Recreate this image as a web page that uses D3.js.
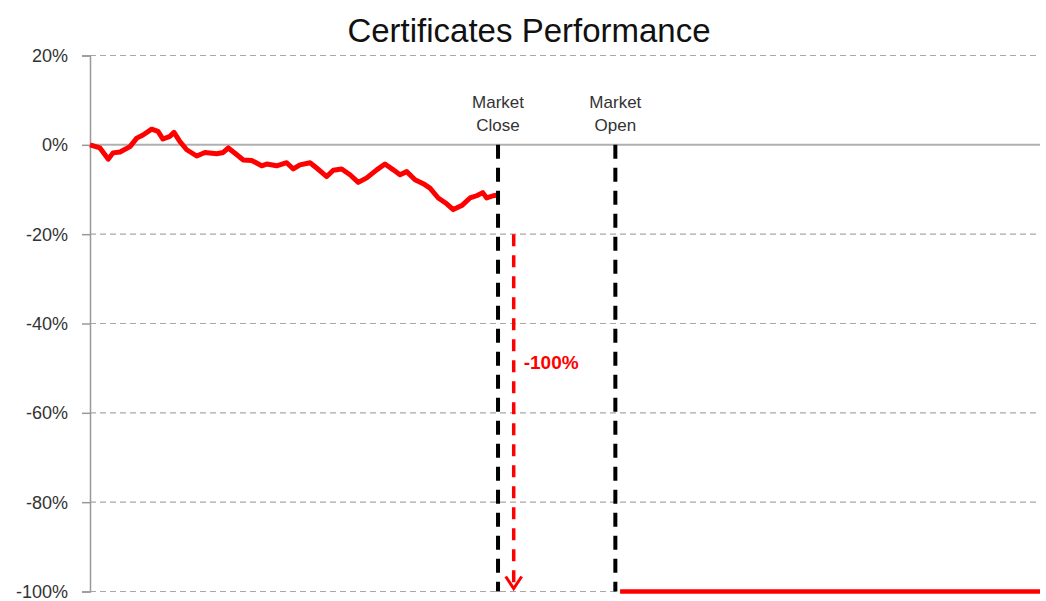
<!DOCTYPE html>
<html>
<head>
<meta charset="utf-8">
<script src="https://cdn.jsdelivr.net/npm/d3@7"></script>
<style>
  body { margin: 0; background: #fff; }
  text { font-family: "Liberation Sans", Arial, sans-serif; }
</style>
</head>
<body>
<div id="chart"></div>
<script>
// trading steps (x) and performance in % (y) before the close
let steps = [0, 1.05, 1.93, 2.42, 3.16, 4.21, 4.92, 5.58, 6.49, 7.16, 7.68, 8.42, 8.84, 9.47,
    10.18, 11.23, 12.1, 13.34, 14.03, 14.56, 15.26, 16.14, 17.02, 18.07, 18.6, 19.65, 20.7,
    21.4, 22.1, 23.16, 23.86, 24.92, 25.61, 26.49, 27.37, 28.24, 29.13, 30.18, 31.05, 31.93,
    32.63, 33.34, 34.21, 35.08, 35.79, 36.66, 37.55, 38.24, 39.13, 40.0, 40.7, 41.34, 41.76,
    42.45, 42.98]
let perf = [0, -0.7, -3.2, -1.8, -1.6, -0.4, 1.5, 2.2, 3.5, 3.0, 1.3, 1.9, 2.8, 0.7,
    -1.1, -2.5, -1.7, -2.0, -1.7, -0.7, -1.9, -3.4, -3.5, -4.7, -4.3, -4.7, -4.0,
    -5.4, -4.5, -4.0, -5.2, -7.1, -5.7, -5.4, -6.7, -8.4, -7.4, -5.6, -4.3, -5.6,
    -6.7, -6.0, -7.8, -8.7, -9.7, -11.9, -13.2, -14.5, -13.6, -11.9, -11.4, -10.7, -11.9,
    -11.4, -11.2]

// after the market opens the certificate is worth nothing
let afterSteps = [55.8, 100]
let afterPerf = [-100, -100]

let yTicks = [20, 0, -20, -40, -60, -80, -100]

let markers = [
    { step: 42.95, label: ["Market", "Close"] },
    { step: 55.3, label: ["Market", "Open"] }
]
let dropStep = 44.6
let dropFrom = -20
let dropTo = -100
let dropLabel = "-100%"
let title = "Certificates Performance"

let width = 1046, height = 601
let margin = { left: 90, right: 6, top: 56, bottom: 10 }

let svg = d3.select('#chart').append('svg')
    .attr('width', width)
    .attr('height', height)

let x = d3.scaleLinear()
    .domain([0, 100])
    .range([margin.left, width - margin.right])

let y = d3.scaleLinear()
    .domain([-100, 20])
    .range([591.5, 55.5])

// gridlines
svg.selectAll('.grid')
    .data(yTicks)
    .enter()
    .append('line')
    .attr('x1', x(0))
    .attr('x2', x(100))
    .attr('y1', d => y(d))
    .attr('y2', d => y(d))
    .attr('stroke', d => d === 0 ? '#b0b0b0' : '#a8a8a8')
    .attr('stroke-width', d => d === 0 ? 2 : 1.2)
    .attr('stroke-dasharray', d => d === 0 ? null : '6,4')

// y axis
let yAxis = d3.axisLeft(y)
    .tickValues(yTicks)
    .tickFormat(d => d + '%')
    .tickSize(8)
    .tickPadding(14)

let axisG = svg.append('g')
    .attr('transform', 'translate(' + x(0) + ',0)')
    .call(yAxis)
axisG.select('.domain').attr('stroke', '#999').attr('stroke-width', 1.5)
axisG.selectAll('.tick line').attr('stroke', '#999').attr('stroke-width', 1.5)
axisG.selectAll('.tick text')
    .attr('fill', '#333')
    .attr('dy', '0.34em')
    .style('font-size', '18px')
    .style('font-family', '"Liberation Sans", Arial, sans-serif')

// title
svg.append('text')
    .attr('x', 529)
    .attr('y', 42)
    .attr('text-anchor', 'middle')
    .attr('fill', '#111')
    .style('font-size', '33px')
    .text(title)

// performance line
let line = d3.line()
    .x(d => x(d[0]))
    .y(d => y(d[1]))

svg.append('path')
    .datum(steps.map((s, i) => [s, perf[i]]))
    .attr('d', line)
    .attr('fill', 'none')
    .attr('stroke', '#ff0000')
    .attr('stroke-width', 5)
    .attr('stroke-linejoin', 'round')

svg.append('path')
    .datum(afterSteps.map((s, i) => [s, afterPerf[i]]))
    .attr('d', line)
    .attr('fill', 'none')
    .attr('stroke', '#ff0000')
    .attr('stroke-width', 4.5)

// market close / open markers
markers.forEach(function (m) {
    svg.append('line')
        .attr('x1', x(m.step))
        .attr('x2', x(m.step))
        .attr('y1', y(0))
        .attr('y2', y(-100))
        .attr('stroke', '#000')
        .attr('stroke-width', 4)
        .attr('stroke-dasharray', '14,9')

    let t = svg.append('text')
        .attr('x', x(m.step))
        .attr('y', 108)
        .attr('text-anchor', 'middle')
        .attr('fill', '#333')
        .style('font-size', '17px')
    t.selectAll('tspan')
        .data(m.label)
        .enter()
        .append('tspan')
        .attr('x', x(m.step))
        .attr('dy', (d, i) => i === 0 ? 0 : 23)
        .text(d => d)
})

// drop arrow
svg.append('line')
    .attr('x1', x(dropStep))
    .attr('x2', x(dropStep))
    .attr('y1', y(dropFrom))
    .attr('y2', y(dropTo) - 2)
    .attr('stroke', '#ff0000')
    .attr('stroke-width', 3.5)
    .attr('stroke-dasharray', '12,9')

svg.append('path')
    .attr('d', 'M' + (x(dropStep) - 8) + ',' + (y(dropTo) - 15) +
        'L' + x(dropStep) + ',' + (y(dropTo) - 3) +
        'L' + (x(dropStep) + 8) + ',' + (y(dropTo) - 15))
    .attr('fill', 'none')
    .attr('stroke', '#ff0000')
    .attr('stroke-width', 3)

svg.append('text')
    .attr('x', x(dropStep) + 10)
    .attr('y', 369)
    .attr('fill', '#ff0000')
    .style('font-size', '19px')
    .style('font-weight', 'bold')
    .text(dropLabel)
</script>
</body>
</html>
